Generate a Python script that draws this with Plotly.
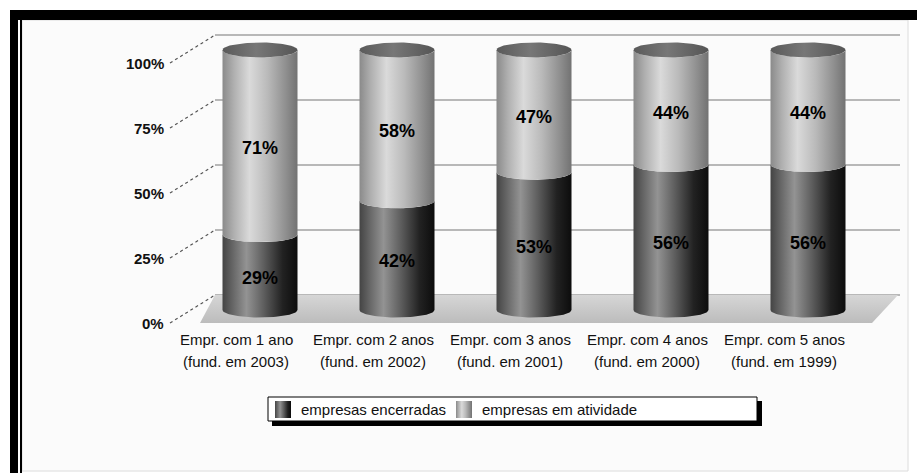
import numpy as np
import plotly.graph_objects as go

# ---- data -------------------------------------------------------------
categories = ["Empr. com 1 ano", "Empr. com 2 anos", "Empr. com 3 anos",
              "Empr. com 4 anos", "Empr. com 5 anos"]
founded = ["(fund. em 2003)", "(fund. em 2002)", "(fund. em 2001)",
           "(fund. em 2000)", "(fund. em 1999)"]
encerradas = [29, 42, 53, 56, 56]
atividade = [71, 58, 47, 44, 44]
tick_values = [0, 25, 50, 75, 100]
series_names = ["empresas encerradas", "empresas em atividade"]

# ---- page geometry (pixels) -------------------------------------------
W, H = 917, 473
X0_PX, X_STEP = 260, 137      # centre of first category, px per category
Y0_PX, Y_STEP = 310, 2.6      # baseline of the cylinders, px per percent point
BACK_PX = 15                  # back wall sits this many px above the cylinders
FRONT_PX = 13                 # axis labels sit this many px below the cylinders


def xv(px):
    return (px - X0_PX) / X_STEP


def yv(py):
    return (Y0_PX - py) / Y_STEP


R = 37.5 / X_STEP             # cylinder radius (x units)
B = 7.5 / Y_STEP              # ellipse half-height (y units)
BACK = BACK_PX / Y_STEP
FRONT = FRONT_PX / Y_STEP

FONT = "Liberation Sans, Arial, sans-serif"

DARK = [[0, "#444444"], [0.12, "#626262"], [0.32, "#939393"], [0.55, "#5e5e5e"],
        [0.8, "#222222"], [1, "#0c0c0c"]]
LIGHT = [[0, "#8a8a8a"], [0.15, "#afafaf"], [0.36, "#dadada"], [0.6, "#bababa"],
         [0.85, "#8e8e8e"], [1, "#727272"]]
CAP = [[0, "#5a5a5a"], [0.45, "#777777"], [1, "#555555"]]

fig = go.Figure()


def poly(x, y, scale, gtype="horizontal"):
    fig.add_trace(go.Scatter(
        x=list(x), y=list(y), mode="lines", fill="toself",
        line=dict(width=0, color="rgba(0,0,0,0)"),
        fillgradient=dict(type=gtype, colorscale=scale),
        hoverinfo="skip", showlegend=False))


def lower_arc(c, v):
    t = np.linspace(np.pi, 2 * np.pi, 48)
    return c + R * np.cos(t), v + B * np.sin(t)


# floor of the 3D box
floor_x = [xv(215), xv(898), xv(872), xv(200)]
floor_y = [yv(Y0_PX - BACK_PX), yv(Y0_PX - BACK_PX), yv(Y0_PX + FRONT_PX), yv(Y0_PX + FRONT_PX)]
poly(floor_x, floor_y, [[0, "#bcbcbc"], [1, "#d6d6d6"]], "vertical")

# cylinders
for i, (lo, hi) in enumerate(zip(encerradas, atividade)):
    segments = [(0, lo, DARK), (lo, lo + hi, LIGHT)]
    for y0, y1, scale in segments:
        ax, ay = lower_arc(i, y0)
        bx, by = lower_arc(i, y1)
        poly(np.concatenate([ax, bx[::-1]]), np.concatenate([ay, by[::-1]]), scale)
    t = np.linspace(0, 2 * np.pi, 96)
    poly(i + R * np.cos(t), lo + hi + B * np.sin(t), CAP)

# legend swatches
legend_items = [(275, 291, DARK), (456, 472, LIGHT)]
for x0, x1, scale in legend_items:
    poly([xv(x0), xv(x1), xv(x1), xv(x0)], [yv(418), yv(418), yv(401), yv(401)], scale)

annotations = []
shapes = []


def paper_rect(x0, y0, x1, y1, fill, line_color=None, line_width=0):
    shapes.append(dict(type="rect", xref="paper", yref="paper", layer="below",
                       x0=x0 / W, x1=x1 / W, y0=1 - y1 / H, y1=1 - y0 / H,
                       fillcolor=fill, line=dict(color=line_color or fill, width=line_width)))


# frame and panel
paper_rect(22, 20, 908, 471, "#fbfbfb", "#dcdcdc", 1)
paper_rect(10, 10, W, 20, "#000000")
paper_rect(10, 10, 18, H, "#000000")
paper_rect(20, 14, 22, H, "#000000")

# back wall gridlines and side-wall connectors
for v in tick_values:
    shapes.append(dict(type="line", xref="x", yref="y", layer="below",
                       x0=xv(215), x1=xv(900), y0=v + BACK, y1=v + BACK,
                       line=dict(color="#a2a2a2", width=1.5)))
    shapes.append(dict(type="line", xref="x", yref="y", layer="below",
                       x0=xv(170), x1=xv(215), y0=v - FRONT, y1=v + BACK,
                       line=dict(color="#555555", width=1.2, dash="dot")))
    annotations.append(dict(x=xv(166), y=v - FRONT, xref="x", yref="y",
                            text=f"{v}%", showarrow=False, xanchor="right",
                            yanchor="middle",
                            font=dict(family=FONT, size=15, color="#111111",
                                      weight="bold")))

# value labels
for i, (lo, hi) in enumerate(zip(encerradas, atividade)):
    for mid, val in ((lo / 2, lo), (lo + hi / 2, hi)):
        annotations.append(dict(x=i, y=mid, xref="x", yref="y", yshift=-6,
                                text=f"{val}%", showarrow=False,
                                font=dict(family=FONT, size=18, color="#000000",
                                          weight="bold")))

# category labels
for i, (c, f) in enumerate(zip(categories, founded)):
    for text, row_px in ((c, 339), (f, 361)):
        annotations.append(dict(x=i, xshift=-24, y=yv(row_px), xref="x", yref="y",
                                text=text, showarrow=False, yanchor="middle",
                                font=dict(family=FONT, size=15, color="#111111")))

# legend box with drop shadow
paper_rect(272, 401, 762, 426, "#000000")
paper_rect(268, 397, 757, 421, "#ffffff", "#000000", 1)
for (x0, x1, _), name in zip(legend_items, series_names):
    annotations.append(dict(x=xv(x1 + 8), y=yv(409.5), xref="x", yref="y",
                            text=name, showarrow=False, xanchor="left",
                            yanchor="middle",
                            font=dict(family=FONT, size=15, color="#111111")))

fig.update_layout(
    width=W, height=H,
    margin=dict(l=0, r=0, t=0, b=0),
    paper_bgcolor="#ffffff", plot_bgcolor="rgba(0,0,0,0)",
    xaxis=dict(range=[xv(0), xv(W)], visible=False, fixedrange=True),
    yaxis=dict(range=[yv(H), yv(0)], visible=False, fixedrange=True),
    showlegend=False,
    shapes=shapes, annotations=annotations,
)

fig.write_html("out.html")
